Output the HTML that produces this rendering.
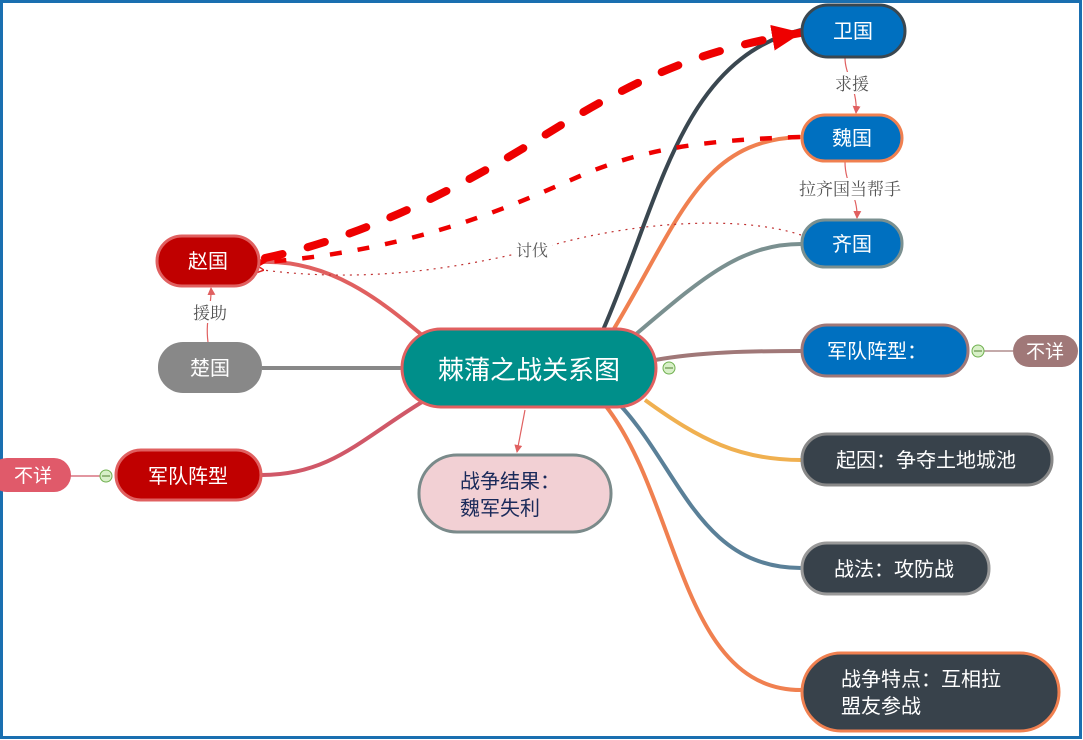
<!DOCTYPE html>
<html><head><meta charset="utf-8"><style>
html,body{margin:0;padding:0;background:#fff}
svg{display:block}
text{font-family:"Liberation Sans","Noto Sans CJK SC",sans-serif}
.lb{font-family:"Liberation Serif","Noto Serif CJK SC",serif}
</style></head><body>
<svg width="1083" height="740" viewBox="0 0 1083 740" xmlns="http://www.w3.org/2000/svg">
<defs>
<marker id="ar" markerWidth="8" markerHeight="8" refX="7" refY="4" orient="auto" markerUnits="userSpaceOnUse"><path d="M0,0 L8,4 L0,8 z" fill="#e06060"/></marker>
<marker id="big" markerWidth="30" markerHeight="26" refX="28" refY="13" orient="auto" markerUnits="userSpaceOnUse"><path d="M0,0 L30,13 L0,26 z" fill="#ee0000"/></marker>
<marker id="mid" markerWidth="18" markerHeight="18" refX="2" refY="9" orient="auto" markerUnits="userSpaceOnUse"><path d="M18,0 L0,9 L18,18 z" fill="#ee0000"/></marker>
<marker id="sm" markerWidth="12" markerHeight="12" refX="1" refY="6" orient="auto" markerUnits="userSpaceOnUse"><path d="M12,0 L0,6 L12,12" fill="none" stroke="#e02020" stroke-width="1.5"/></marker>
</defs>
<rect x="1.5" y="1.5" width="1079" height="736" fill="#fff" stroke="#1a6fb0" stroke-width="3"/>

<path d="M603,330 C660,200 680,60 801,30" fill="none" stroke="#3a4750" stroke-width="4"/>
<path d="M612,332 C680,220 700,140 801,137" fill="none" stroke="#f08050" stroke-width="4"/>
<path d="M635,335 C700,280 740,244 801,244" fill="none" stroke="#7a9090" stroke-width="4"/>
<path d="M655,360 C700,352 750,351 801,351" fill="none" stroke="#a07878" stroke-width="4"/>
<path d="M645,400 C700,440 740,460 801,460" fill="none" stroke="#f0b050" stroke-width="4"/>
<path d="M620,405 C680,470 700,568 801,568" fill="none" stroke="#5a8098" stroke-width="4"/>
<path d="M605,405 C680,500 680,690 801,690" fill="none" stroke="#f08050" stroke-width="4"/>
<path d="M422,335 C380,300 330,260 262,262" fill="none" stroke="#e06060" stroke-width="4"/>
<path d="M402,368 L262,368" fill="none" stroke="#888" stroke-width="4"/>
<path d="M422,402 C360,440 330,475 262,475" fill="none" stroke="#d05868" stroke-width="4"/>

<path d="M265,258 C350,240 440,200 540,138 S700,50 800,33" fill="none" stroke="#ee0000" stroke-width="8" stroke-dasharray="18,26" stroke-linecap="round" marker-end="url(#big)"/>
<path d="M800,137 C700,140 640,150 580,176 S420,250 265,262" fill="none" stroke="#ee0000" stroke-width="4.5" stroke-dasharray="12,16" marker-end="url(#mid)"/>
<path d="M801,235 C740,215 640,222 560,243 S380,285 263,270" fill="none" stroke="#c03030" stroke-width="1.2" stroke-dasharray="2,5" marker-end="url(#sm)"/>
<rect x="512" y="238" width="40" height="22" fill="#fff"/>
<text class="lb" x="532" y="256" font-size="16" fill="#555" text-anchor="middle">讨伐</text>

<path d="M845,58 C845,75 858,90 856,113" fill="none" stroke="#e06060" stroke-width="1.2" marker-end="url(#ar)"/>
<rect x="832" y="72" width="40" height="22" fill="#fff"/>
<text class="lb" x="852" y="90" font-size="17" fill="#555" text-anchor="middle">求援</text>
<path d="M845,162 C845,185 858,195 857,218" fill="none" stroke="#e06060" stroke-width="1.2" marker-end="url(#ar)"/>
<rect x="796" y="178" width="108" height="22" fill="#fff"/>
<text class="lb" x="850" y="195" font-size="17" fill="#555" text-anchor="middle">拉齐国当帮手</text>
<path d="M208,342 C205,320 212,305 211,288" fill="none" stroke="#e06060" stroke-width="1.2" marker-end="url(#ar)"/>
<rect x="190" y="301" width="40" height="22" fill="#fff"/>
<text class="lb" x="210" y="319" font-size="17" fill="#555" text-anchor="middle">援助</text>
<path d="M525,410 L517,452" fill="none" stroke="#e06060" stroke-width="1.2" marker-end="url(#ar)"/>

<rect x="402" y="329" width="254" height="78" rx="39" fill="#008f8a" stroke="#e06060" stroke-width="3"/>
<text x="529" y="379" font-size="26" fill="#fff" text-anchor="middle">棘蒲之战关系图</text>
<circle cx="669" cy="368" r="6" fill="#d8f0c8" stroke="#70b050"/><line x1="665" y1="368" x2="673" y2="368" stroke="#508030"/>

<rect x="802" y="5" width="103" height="52" rx="26" fill="#0070c0" stroke="#3a4750" stroke-width="3"/>
<text x="853" y="38" font-size="20" fill="#fff" text-anchor="middle">卫国</text>
<rect x="802" y="115" width="100" height="46" rx="23" fill="#0070c0" stroke="#f08050" stroke-width="3"/>
<text x="852" y="145" font-size="20" fill="#fff" text-anchor="middle">魏国</text>
<rect x="802" y="220" width="100" height="47" rx="23" fill="#0070c0" stroke="#7a9090" stroke-width="3"/>
<text x="852" y="251" font-size="20" fill="#fff" text-anchor="middle">齐国</text>
<rect x="802" y="325" width="166" height="51" rx="25" fill="#0070c0" stroke="#a07878" stroke-width="3"/>
<text x="877" y="358" font-size="20" fill="#fff" text-anchor="middle">军队阵型：</text>
<line x1="984" y1="351" x2="1013" y2="351" stroke="#a07878" stroke-width="1.2"/>
<circle cx="978" cy="351" r="6" fill="#d8f0c8" stroke="#70b050"/><line x1="974" y1="351" x2="982" y2="351" stroke="#508030"/>
<rect x="1013" y="335" width="65" height="32" rx="16" fill="#a07878"/>
<text x="1045" y="358" font-size="19" fill="#fff" text-anchor="middle">不详</text>

<rect x="802" y="434" width="250" height="51" rx="25" fill="#38424b" stroke="#888" stroke-width="3"/>
<text x="926" y="467" font-size="20" fill="#fff" text-anchor="middle">起因：争夺土地城池</text>
<rect x="802" y="543" width="187" height="51" rx="25" fill="#38424b" stroke="#999" stroke-width="3"/>
<text x="894" y="576" font-size="20" fill="#fff" text-anchor="middle">战法：攻防战</text>
<rect x="802" y="653" width="257" height="78" rx="39" fill="#38424b" stroke="#f08050" stroke-width="3"/>
<text x="841" y="686" font-size="20" fill="#fff">战争特点：互相拉</text>
<text x="841" y="713" font-size="20" fill="#fff">盟友参战</text>

<rect x="419" y="455" width="192" height="77" rx="38" fill="#f2d0d4" stroke="#7a8a8a" stroke-width="3"/>
<text x="460" y="488" font-size="20" fill="#1a2a5a">战争结果：</text>
<text x="460" y="515" font-size="20" fill="#1a2a5a">魏军失利</text>

<rect x="157" y="236" width="102" height="50" rx="25" fill="#c00000" stroke="#e06060" stroke-width="3"/>
<text x="208" y="268" font-size="20" fill="#fff" text-anchor="middle">赵国</text>
<rect x="158" y="342" width="104" height="51" rx="25" fill="#888888"/>
<text x="210" y="375" font-size="20" fill="#fff" text-anchor="middle">楚国</text>
<rect x="116" y="450" width="145" height="50" rx="25" fill="#c00000" stroke="#e06060" stroke-width="3"/>
<text x="188" y="483" font-size="20" fill="#fff" text-anchor="middle">军队阵型</text>
<line x1="57" y1="476" x2="100" y2="476" stroke="#d05868" stroke-width="1.2"/>
<circle cx="106" cy="476" r="6" fill="#d8f0c8" stroke="#70b050"/><line x1="102" y1="476" x2="110" y2="476" stroke="#508030"/>
<rect x="-10" y="458" width="81" height="34" rx="17" fill="#e05a6a"/>
<text x="33" y="482" font-size="19" fill="#fff" text-anchor="middle">不详</text>
</svg>
</body></html>
